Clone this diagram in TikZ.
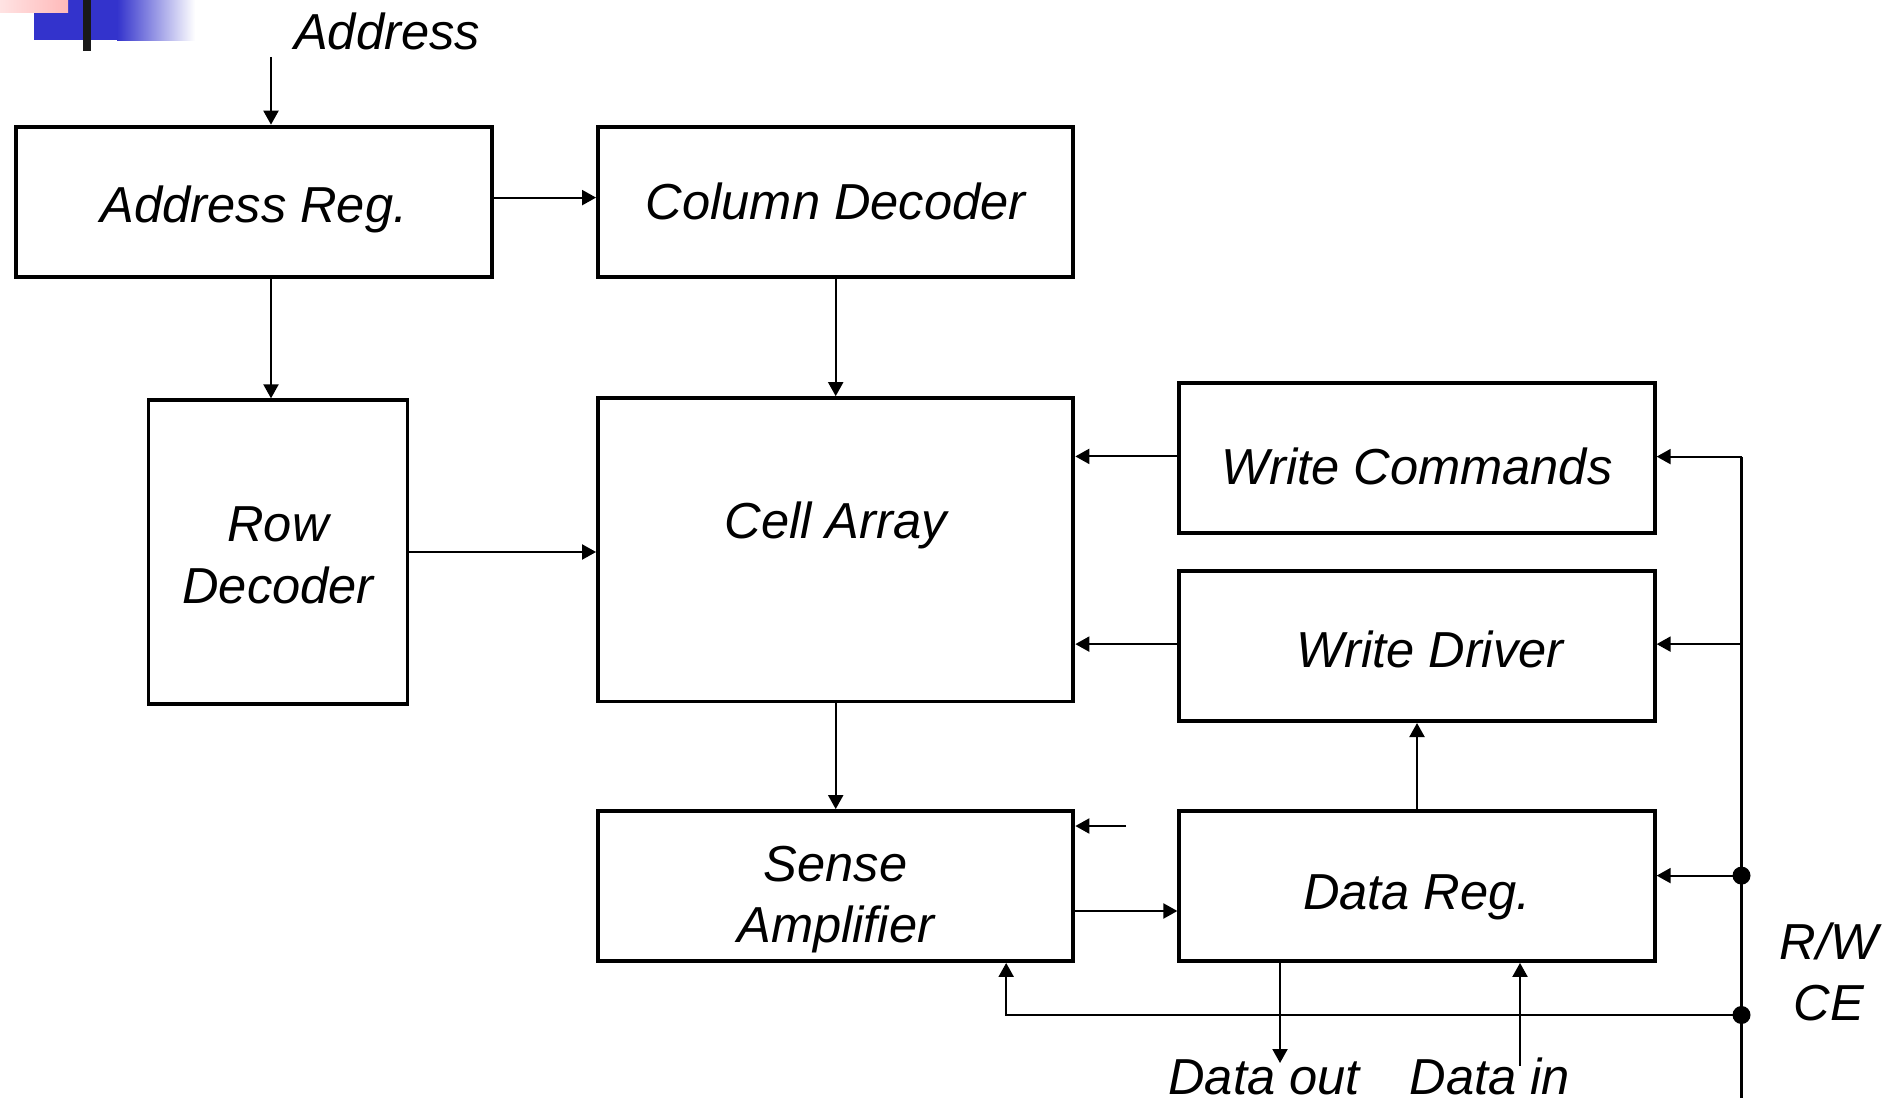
\documentclass[tikz,border=0pt]{standalone}
\usepackage{fontspec}
\setmainfont{Liberation Sans}
\usetikzlibrary{arrows.meta}
\usetikzlibrary{positioning}
\definecolor{decoblue}{RGB}{51,51,204}
\definecolor{decopink}{RGB}{255,185,185}
\tikzset{
  block/.style={draw, line width=2.2pt, minimum width=9.51cm, minimum height=3cm, inner sep=0pt, align=center, text depth=0pt},
  arr/.style={line width=1.2pt, -{Triangle[length=0.28cm,width=0.3cm]}},
  wire/.style={line width=1.2pt}
}
\begin{document}
\begin{tikzpicture}[x=0.02cm, y=-0.02cm, font=\fontsize{28.8}{35}\selectfont\itshape]
\useasboundingbox (0,0) rectangle (1899,1098);
\fill[decoblue] (34,0) rectangle (117,40.5);
\shade[left color=decoblue, right color=white] (117,0) rectangle (195,40.5);
\shade[left color=decopink!40!white, right color=decopink] (0,0) rectangle (68,12.6);
\fill[black!90] (83,0) rectangle (91,51.5);

\node[block, text height=0.82cm] (addr) at (254,201.6) {Address Reg.};
\node[block] (coldec) at (835.7,201.6) {Column Decoder};
\node[block, minimum width=5.18cm, minimum height=6.07cm, label={[align=center, yshift=-0.07cm]center:Row\\Decoder}] (rowdec) at (278,552) {};
\node[block, minimum height=6.07cm, label={[yshift=0.48cm]center:Cell Array}] (cell) at (835.7,549.8) {};
\node[block, text height=1.04cm] (wcmd) at (1417,458.4) {Write Commands};
\node[block, text height=0.84cm] (wdrv) at (1417,646.1) {\hspace{0.52cm}Write Driver};
\node[block, label={[align=center, yshift=-0.27cm]center:Sense\\Amplifier}] (sense) at (835.7,886) {};
\node[block, text height=0.93cm] (dreg) at (1417,886) {Data Reg.};
\node (addrlbl) at (387,31.5) {Address};
\node[anchor=base] (doutlbl) at (1264,1094) {Data out};
\node[anchor=base] (dinlbl) at (1490,1094) {Data in};
\node[align=center] (rwce) at (1829,972) {R/W\\CE};

\coordinate (addrin) at (271,57);
\coordinate (senin) at (1126,826);
\coordinate (bustop) at (1741.5,456.6);
\coordinate (busbot) at (1741.5,1098);
\coordinate (dot1) at (1741.5,875.6);
\coordinate (dot2) at (1741.5,1015);
\coordinate (dout) at (1280,1063);
\coordinate (din) at (1520,1066);

\draw[arr] (addrin) -- (addrin |- addr.north);
\draw[arr] ([yshift=0.08cm]addr.east) -- ([yshift=0.08cm]addr.east -| coldec.west);
\draw[arr] (addrin |- addr.south) -- (addrin |- rowdec.north);
\draw[arr] (coldec.south) -- (cell.north);
\draw[arr] (rowdec.east) -- (rowdec.east -| cell.west);
\draw[arr] ([yshift=0.04cm]wcmd.west) -- ([yshift=0.04cm]wcmd.west -| cell.east);
\draw[arr] ([yshift=0.04cm]wdrv.west) -- ([yshift=0.04cm]wdrv.west -| cell.east);
\draw[arr] (cell.south) -- (sense.north);
\draw[arr] (senin) -- (senin -| sense.east);
\draw[arr] ([yshift=-0.5cm]sense.east) -- ([yshift=-0.5cm]sense.east -| dreg.west);
\draw[arr] (dreg.north) -- (wdrv.south);

\draw[wire] (bustop) -- (busbot);
\draw[arr] (bustop) -- (bustop -| wcmd.east);
\draw[arr] ([yshift=0.04cm]wdrv.east -| bustop) -- ([yshift=0.04cm]wdrv.east);
\draw[arr] (dot1) -- (dot1 -| dreg.east);
\draw[arr] (dot2) -| ([xshift=3.41cm]sense.south);
\fill (dot1) circle (0.18cm);
\fill (dot2) circle (0.18cm);
\draw[arr] (dreg.south -| dout) -- (dout);
\draw[arr] (din) -- (din |- dreg.south);
\end{tikzpicture}
\end{document}
